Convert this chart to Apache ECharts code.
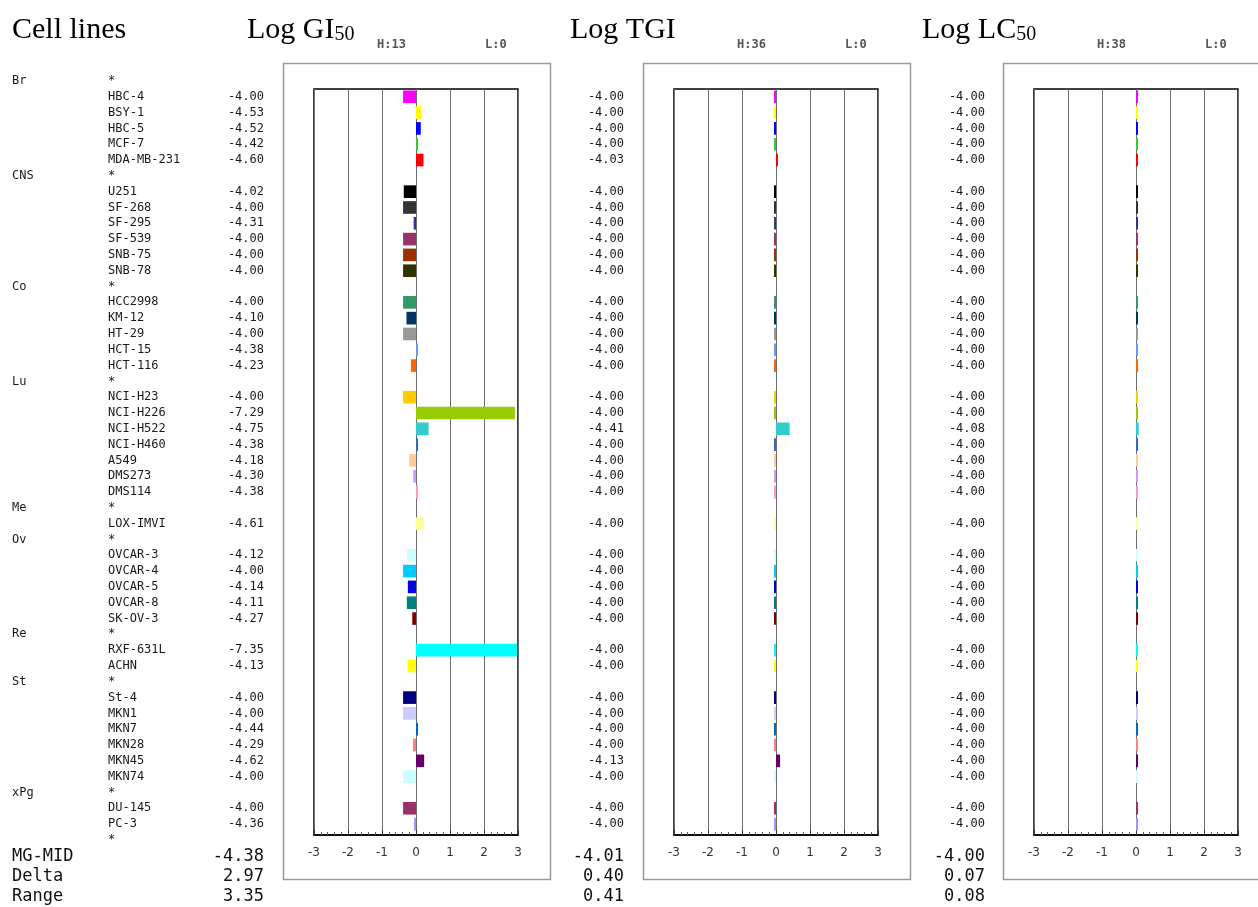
<!DOCTYPE html>
<html>
<head>
<meta charset="utf-8">
<title>JFCR39 mean graph</title>
<script src="https://cdn.jsdelivr.net/npm/echarts@6/dist/echarts.min.js"></script>
<style>
  html, body { margin: 0; padding: 0; background: #fff; }
  #chart { width: 1258px; height: 907px; }
</style>
</head>
<body>
<div id="chart"></div>
<script>
// ---- data ----
const groupNames = ['Br', 'CNS', 'Co', 'Lu', 'Me', 'Ov', 'Re', 'St', 'xPg'];
const groupSizes = [5, 6, 5, 7, 1, 5, 2, 6, 2];

const cellLines = [
  'HBC-4', 'BSY-1', 'HBC-5', 'MCF-7', 'MDA-MB-231',
  'U251', 'SF-268', 'SF-295', 'SF-539', 'SNB-75', 'SNB-78',
  'HCC2998', 'KM-12', 'HT-29', 'HCT-15', 'HCT-116',
  'NCI-H23', 'NCI-H226', 'NCI-H522', 'NCI-H460', 'A549', 'DMS273', 'DMS114',
  'LOX-IMVI',
  'OVCAR-3', 'OVCAR-4', 'OVCAR-5', 'OVCAR-8', 'SK-OV-3',
  'RXF-631L', 'ACHN',
  'St-4', 'MKN1', 'MKN7', 'MKN28', 'MKN45', 'MKN74',
  'DU-145', 'PC-3'
];

const logGI50 = [
  -4.00, -4.53, -4.52, -4.42, -4.60,
  -4.02, -4.00, -4.31, -4.00, -4.00, -4.00,
  -4.00, -4.10, -4.00, -4.38, -4.23,
  -4.00, -7.29, -4.75, -4.38, -4.18, -4.30, -4.38,
  -4.61,
  -4.12, -4.00, -4.14, -4.11, -4.27,
  -7.35, -4.13,
  -4.00, -4.00, -4.44, -4.29, -4.62, -4.00,
  -4.00, -4.36
];

const logTGI = [
  -4.00, -4.00, -4.00, -4.00, -4.03,
  -4.00, -4.00, -4.00, -4.00, -4.00, -4.00,
  -4.00, -4.00, -4.00, -4.00, -4.00,
  -4.00, -4.00, -4.41, -4.00, -4.00, -4.00, -4.00,
  -4.00,
  -4.00, -4.00, -4.00, -4.00, -4.00,
  -4.00, -4.00,
  -4.00, -4.00, -4.00, -4.00, -4.13, -4.00,
  -4.00, -4.00
];

const logLC50 = [
  -4.00, -4.00, -4.00, -4.00, -4.00,
  -4.00, -4.00, -4.00, -4.00, -4.00, -4.00,
  -4.00, -4.00, -4.00, -4.00, -4.00,
  -4.00, -4.00, -4.08, -4.00, -4.00, -4.00, -4.00,
  -4.00,
  -4.00, -4.00, -4.00, -4.00, -4.00,
  -4.00, -4.00,
  -4.00, -4.00, -4.00, -4.00, -4.00, -4.00,
  -4.00, -4.00
];

const barColors = [
  '#ff00ff', '#ffff00', '#0000ff', '#33cc33', '#ff0000',
  '#000000', '#333333', '#333399', '#993366', '#993300', '#333300',
  '#339966', '#003366', '#999999', '#6699ff', '#ff6600',
  '#ffcc00', '#99cc00', '#33cccc', '#3366cc', '#ffcc99', '#cc99ff', '#ff99cc',
  '#ffff99',
  '#ccffff', '#00ccff', '#0000e0', '#008080', '#800000',
  '#00ffff', '#ffff00',
  '#000080', '#ccccff', '#0066cc', '#ff8080', '#660066', '#ccffff',
  '#993366', '#9999ff'
];

const panelValues = [logGI50, logTGI, logLC50];
const mgMid = [-4.38, -4.01, -4.00];
const deltas = [2.97, 0.40, 0.07];
const ranges = [3.35, 0.41, 0.08];
const highCounts = [13, 36, 38];
const lowCounts = [0, 0, 0];
const statLabels = ['MG-MID', 'Delta', 'Range'];

// ---- layout ----
const ROW0 = 81, ROW_H = 15.81;
const panelLeft = [314, 674, 1034];
const plotW = 204;
const valueRight = [264, 624, 985];
const frameTop = 89, frameH = 746;
const mono = "'DejaVu Sans Mono', 'Liberation Mono', monospace";
const serif = "'Liberation Serif', 'DejaVu Serif', serif";

// one row per group header, one per cell line, and a closing row
const rows = [];
let k = 0;
groupNames.forEach((g, gi) => {
  rows.push({ group: g, name: '*', line: -1 });
  for (let j = 0; j < groupSizes[gi]; j++) rows.push({ group: '', name: cellLines[k], line: k++ });
});
rows.push({ group: '', name: '*', line: -1 });
const rowKeys = rows.map((r, i) => String(i));
const dataTop = ROW0 - ROW_H / 2;
const dataH = rows.length * ROW_H;

const grid = [], xAxis = [], yAxis = [], series = [], graphic = [];

panelValues.forEach((vals, p) => {
  const L = panelLeft[p];
  // framed plot area with the -3..3 scale
  const frameGrid = grid.length;
  grid.push({ left: L, top: frameTop, width: plotW, height: frameH, show: true,
              borderColor: '#000', borderWidth: 1.5, backgroundColor: 'transparent' });
  xAxis.push({
    gridIndex: frameGrid, type: 'value', min: -3, max: 3, interval: 1, position: 'bottom',
    axisLine: { show: true, onZero: false, lineStyle: { color: '#000', width: 1.5 } },
    axisTick: { show: true, inside: true, length: 5, lineStyle: { color: '#333' } },
    minorTick: { show: true, splitNumber: 5, length: 3, lineStyle: { color: '#555' } },
    axisLabel: { color: '#333', fontSize: 12, margin: 12, fontFamily: "'DejaVu Sans', sans-serif" },
    splitLine: { show: true, lineStyle: { color: '#6e6e6e', width: 1 } }
  });
  yAxis.push({ gridIndex: frameGrid, type: 'value', min: 0, max: 1, show: false });

  // row grid: bars and the text columns
  const dataGrid = grid.length;
  grid.push({ left: L, top: dataTop, width: plotW, height: dataH, show: false });
  const xi = xAxis.length;
  xAxis.push({ gridIndex: dataGrid, type: 'value', min: -3, max: 3, show: false });

  const valueText = rows.map(r => (r.line < 0 ? '' : vals[r.line].toFixed(2)));
  const yi = yAxis.length;
  const catBase = {
    gridIndex: dataGrid, type: 'category', inverse: true, data: rowKeys, position: 'left',
    axisLine: { show: false, onZero: false }, axisTick: { show: false }, splitLine: { show: false }
  };
  yAxis.push(Object.assign({}, catBase, {
    axisLabel: { interval: 0, margin: L - valueRight[p], fontFamily: mono, fontSize: 12, color: '#1a1a1a',
                 formatter: (v, i) => valueText[i] }
  }));
  if (p === 0) {
    yAxis.push(Object.assign({}, catBase, {
      axisLabel: { interval: 0, margin: L - 108, align: 'left', fontFamily: mono, fontSize: 12, color: '#1a1a1a',
                   formatter: (v, i) => rows[i].name }
    }));
    yAxis.push(Object.assign({}, catBase, {
      axisLabel: { interval: 0, margin: L - 12, align: 'left', fontFamily: mono, fontSize: 12, color: '#1a1a1a',
                   formatter: (v, i) => rows[i].group }
    }));
  }

  series.push({
    type: 'bar', xAxisIndex: xi, yAxisIndex: yi, barWidth: '80%', barMinHeight: 2,
    silent: true, animation: false,
    data: rows.map(r => r.line < 0 ? '-' : {
      value: +(mgMid[p] - vals[r.line]).toFixed(2),
      itemStyle: { color: barColors[r.line] }
    })
  });

  // outer panel box
  graphic.push({
    type: 'rect', left: L - 33, top: 61, silent: true,
    shape: { width: 267, height: 816 },
    style: { fill: 'none', stroke: '#9a9a9a', lineWidth: 1.5 }
  });
  // high / low counts
  graphic.push({ type: 'text', x: L + 63, y: 45, silent: true,
    style: { text: 'H:' + highCounts[p], font: 'bold 12px ' + mono, fill: '#555', verticalAlign: 'middle' } });
  graphic.push({ type: 'text', x: L + 171, y: 45, silent: true,
    style: { text: 'L:' + lowCounts[p], font: 'bold 12px ' + mono, fill: '#555', verticalAlign: 'middle' } });
  // summary statistics
  [mgMid[p], deltas[p], ranges[p]].forEach((s, si) => {
    graphic.push({ type: 'text', x: valueRight[p], y: 857 + si * 20, silent: true,
      style: { text: s.toFixed(2), font: '17px ' + mono, fill: '#111', align: 'right', verticalAlign: 'middle' } });
  });
});

statLabels.forEach((s, si) => {
  graphic.push({ type: 'text', x: 12, y: 857 + si * 20, silent: true,
    style: { text: s, font: '17px ' + mono, fill: '#111', verticalAlign: 'middle' } });
});

// column headings
const headStyle = { fontFamily: serif, fontSize: 30, fill: '#000' };
graphic.push({ type: 'text', x: 12, y: 30, silent: true,
  style: Object.assign({ text: 'Cell lines', verticalAlign: 'middle' }, headStyle) });
const headings = [
  { x: 247, main: 'Log GI', sub: '50' },
  { x: 570, main: 'Log TGI', sub: '' },
  { x: 922, main: 'Log LC', sub: '50' }
];
headings.forEach(h => {
  graphic.push({ type: 'text', x: h.x, y: 15, silent: true,
    style: {
      text: '{a|' + h.main + '}' + (h.sub ? '{b|' + h.sub + '}' : ''),
      verticalAlign: 'top',
      rich: {
        a: { fontFamily: serif, fontSize: 30, lineHeight: 30, color: '#000' },
        b: { fontFamily: serif, fontSize: 20, lineHeight: 14, color: '#000', verticalAlign: 'bottom' }
      }
    } });
});

const chart = echarts.init(document.getElementById('chart'), null, { renderer: 'canvas' });
chart.setOption({
  animation: false,
  backgroundColor: '#fff',
  grid, xAxis, yAxis, series, graphic
});
</script>
</body>
</html>
